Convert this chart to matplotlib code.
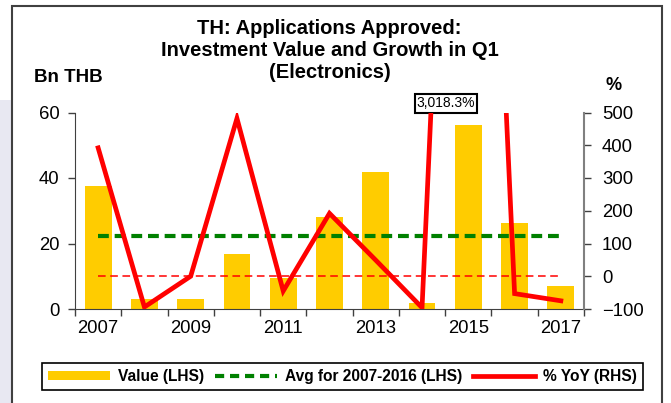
import numpy as np
import matplotlib
matplotlib.use('Agg')
from matplotlib import pyplot as plt
from matplotlib.patches import Rectangle
from matplotlib.lines import Line2D
from matplotlib.patches import Patch

plt.rcParams['font.family'] = ['Liberation Sans', 'DejaVu Sans']

# data
years = ['2007', '2008', '2009', '2010', '2011', '2012', '2013', '2014', '2015', '2016', '2017']
value = [37.5, 3.0, 3.0, 16.8, 9.5, 28.1, 41.9, 1.7, 56.2, 26.4, 6.9]   # Bn THB
yoy = [392, -94, 0, 482, -45, 192, 49, -96, 3018.3, -53, -75]          # %
avg_0716 = 22.4

W, H = 671, 403
fig = plt.figure(figsize=(W / 100, H / 100), dpi=100)

# left light strip + outer frame
fig.patches.append(Rectangle((0, 0), 11 / W, 1 - 100 / H, transform=fig.transFigure,
                             facecolor='#E8E8F2', edgecolor='none', zorder=0))
fig.patches.append(Rectangle((11.5 / W, -0.05), 650 / W, 1.05 - 6 / H, transform=fig.transFigure,
                             facecolor='none', edgecolor='#404040', lw=1.5, zorder=1))

ax = fig.add_axes([75 / W, 1 - 309 / H, (584 - 75) / W, (309 - 112.5) / H])
ax2 = ax.twinx()

x = np.arange(len(years))
ax.bar(x, value, width=0.58, color='#FFCC00', zorder=2)
ax.plot([x[0], x[-1]], [avg_0716, avg_0716], color='#008000', lw=3,
        linestyle=(0, (2.6, 1.4)), zorder=3)

ax2.plot([x[0], x[-1]], [0, 0], color='#FF0000', lw=1.1, linestyle=(0, (5, 3)), zorder=3)
ax2.plot(x, yoy, color='#FF0000', lw=3.4, zorder=4, solid_joinstyle='miter')

ax.set_xlim(-0.5, len(years) - 0.5)
ax.set_ylim(0, 60)
ax.set_yticks([0, 20, 40, 60])
ax2.set_ylim(-100, 500)
ax2.set_yticks(range(-100, 501, 100))

ax.set_xticks(np.arange(-0.5, len(years), 1))
ax.set_xticklabels([])
ax.set_xticks(x[::2], minor=True)
ax.set_xticklabels(years[::2], minor=True)
ax.tick_params(axis='x', which='major', length=5, width=1, color='#404040')
ax.tick_params(axis='x', which='minor', length=0, labelsize=13.3, pad=8)
ax.tick_params(axis='y', length=5, width=1, color='#404040', labelsize=13.3, pad=6)
ax2.tick_params(axis='y', length=5, width=1, color='#404040', labelsize=13.3, pad=8)

for a in (ax, ax2):
    a.spines['top'].set_visible(False)
ax.spines['right'].set_visible(False)
ax2.spines['left'].set_visible(False)
ax2.spines['bottom'].set_visible(False)
ax.spines['left'].set_color('#404040')
ax.spines['bottom'].set_color('#404040')
ax2.spines['right'].set_color('#808080')
ax2.spines['right'].set_linewidth(1.5)

ax2.text(7.52, 1.046, '3,018.3%', transform=ax2.get_xaxis_transform(), ha='center', va='center',
         fontsize=10, clip_on=False,
         bbox=dict(boxstyle='square,pad=0.15', facecolor='white', edgecolor='black', lw=1.5))

cx = 329.5 / W
for i, line in enumerate(['TH: Applications Approved:', 'Investment Value and Growth in Q1',
                          '(Electronics)']):
    fig.text(cx, 1 - (28 + 22.5 * i) / H, line, ha='center', va='center',
             fontsize=14.5, fontweight='bold')
fig.text(34 / W, 1 - 78 / H, 'Bn THB', ha='left', va='center', fontsize=13.5, fontweight='bold')
fig.text(614 / W, 1 - 86 / H, '%', ha='center', va='center', fontsize=13, fontweight='bold')

handles = [Patch(facecolor='#FFCC00', edgecolor='none'),
           Line2D([], [], color='#008000', lw=3, linestyle=(0, (2.2, 1.4))),
           Line2D([], [], color='#FF0000', lw=3.4)]
labels = ['Value (LHS)', 'Avg for 2007-2016 (LHS)', '% YoY (RHS)']
leg = fig.legend(handles, labels, loc='center', bbox_to_anchor=(342.5 / W, 1 - 376.5 / H),
                 ncol=3, fancybox=False, edgecolor='black', framealpha=1,
                 prop={'weight': 'bold', 'size': 11.2}, handlelength=4.0, handleheight=0.5,
                 handletextpad=0.5, columnspacing=0.7, borderpad=0.4)
leg.get_frame().set_linewidth(1.2)

fig.savefig('out.png', dpi=100)
